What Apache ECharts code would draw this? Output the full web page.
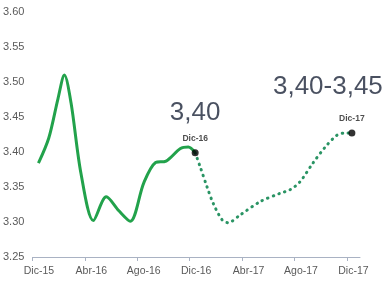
<!DOCTYPE html>
<html>
<head>
<meta charset="utf-8">
<script src="https://cdn.jsdelivr.net/npm/echarts@6/dist/echarts.min.js"></script>
<style>html,body{margin:0;padding:0;background:#fff}#c{width:384px;height:286px}</style>
</head>
<body>
<div id="c"></div>
<script>
// months counted from Dic-15 (0) to Dic-17 (24)
var tickLabels = ['Dic-15','Abr-16','Ago-16','Dic-16','Abr-17','Ago-17','Dic-17'];
var tickMonths = [0,4,8,12,16,20,24];
var actualMonths = [0.46,1.25,1.95,2.44,2.95,3.7,4.65,5.64,6.6,7.47,8.5,9.4,10.2,11.3,11.9,12.42];
var actualRates  = [3.384,3.42,3.476,3.51,3.47,3.37,3.302,3.336,3.316,3.301,3.356,3.385,3.387,3.405,3.407,3.399];
var forecastMonths = [12.42,12.8,13.33,13.79,14.48,14.93,15.85,17.37,18.9,19.66,20.4,21.4,22.3,23.24,23.85,24.38];
var forecastRates  = [3.399,3.379,3.35,3.327,3.303,3.299,3.31,3.329,3.341,3.346,3.357,3.384,3.406,3.424,3.427,3.427];
var markMonths = [12.42,24.38];
var markRates = [3.399,3.427];
var markNames = ['Dic-16','Dic-17'];
var markTexts = ['3,40','3,40-3,45'];

function pairs(xs, ys){ return xs.map(function(x,i){ return [x, ys[i]]; }); }

var chart = echarts.init(document.getElementById('c'), null, {renderer:'canvas'});
var font = 'Liberation Sans, Arial, sans-serif';
chart.setOption({
  animation:false,
  backgroundColor:'#ffffff',
  grid:{left:32,right:24,top:12,bottom:29,containLabel:false},
  xAxis:{
    type:'value', min:0, max:25,
    splitLine:{show:false},
    axisLine:{show:true,lineStyle:{color:'#a9b2c3',width:1}},
    axisTick:{show:true,length:4,customValues:tickMonths,lineStyle:{color:'#a9b2c3'}},
    axisLabel:{customValues:tickMonths,color:'#5a5a5a',fontSize:10.5,fontFamily:font,margin:9,
      padding:[0,0,0,13],
      formatter:function(v){ var i = tickMonths.indexOf(v); return i>=0 ? tickLabels[i] : ''; }}
  },
  yAxis:{
    type:'value', min:3.25, max:3.6, interval:0.05,
    splitLine:{show:false},
    axisLine:{show:false}, axisTick:{show:false},
    axisLabel:{color:'#5a5a5a',fontSize:11,fontFamily:font,margin:8,
      formatter:function(v){ return v.toFixed(2); }}
  },
  series:[
    {type:'line', data:pairs(actualMonths, actualRates), smooth:0.3, symbol:'none',
     lineStyle:{color:'#22a24b',width:3}, z:3},
    {type:'line', data:pairs(forecastMonths, forecastRates), smooth:0.3, symbol:'none',
     lineStyle:{color:'#2a9464',width:3,type:[0.5,5.5],cap:'round'}, z:3},
    {type:'scatter', data:pairs(markMonths, markRates), symbol:'circle', symbolSize:7,
     itemStyle:{color:'#000'}, z:5,
     label:{show:true,position:'inside',offset:[0,-14],color:'#222',fontSize:8.5,fontWeight:'bold',fontFamily:font,
       formatter:function(p){ return markNames[p.dataIndex]; }}},
    {type:'scatter', symbolSize:0, z:6,
     data:[
       {value:[markMonths[0],markRates[0]], label:{offset:[0,-40]}},
       {value:[markMonths[1],markRates[1]], label:{offset:[-24,-46]}}
     ],
     label:{show:true,position:'inside',color:'#1c2438',fontSize:26,fontFamily:font,
       formatter:function(p){ return markTexts[p.dataIndex]; }}}
  ]
});
</script>
</body>
</html>
